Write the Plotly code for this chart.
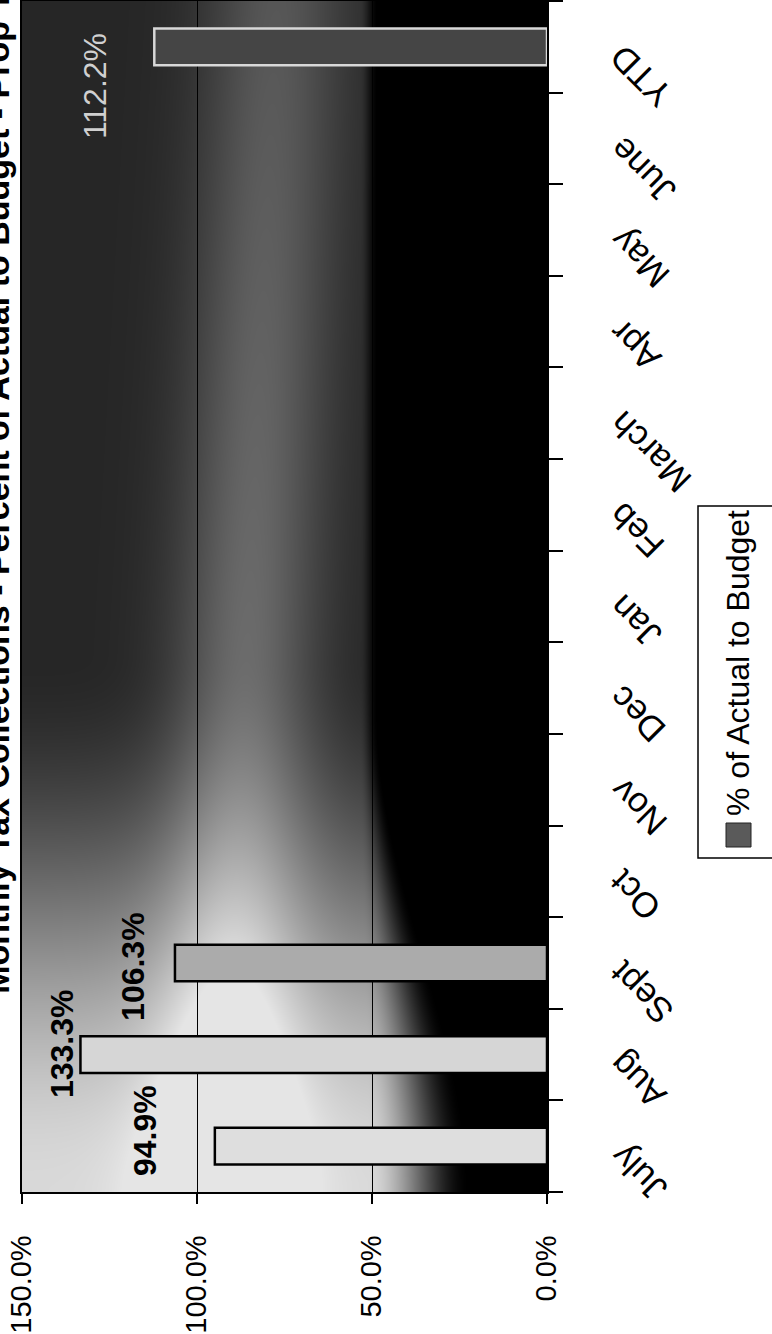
import base64
import struct
import zlib

import numpy as np
import plotly.graph_objects as go

# ---- data -------------------------------------------------------------
months = ["July", "Aug", "Sept", "Oct", "Nov", "Dec", "Jan", "Feb",
          "March", "Apr", "May", "June", "YTD"]
pct_actual_to_budget = [94.9, 133.3, 106.3, None, None, None, None, None,
                        None, None, None, None, 112.2]
value_ticks = [0, 50, 100, 150]
value_tick_text = ["0.0%", "50.0%", "100.0%", "150.0%"]
series_name = "% of Actual to Budget"
title_text = "Monthly Tax Collections - Percent of Actual to Budget - Prop Taxes - FY07"

# ---- styling ----------------------------------------------------------
bar_fill = {"July": "#dedede", "Aug": "#d6d6d6", "Sept": "#ababab", "YTD": "#454545"}
bar_edge = {"July": "black", "Aug": "black", "Sept": "black", "YTD": "#d8d8d8"}
label_shift = {"July": (-70, 16), "Aug": (-19, 11), "Sept": (-42, -3), "YTD": (-59, -39)}
label_colour = {"July": "black", "Aug": "black", "Sept": "black", "YTD": "#d0d0d0"}

SANS = "Liberation Sans, Arial, sans-serif"

W, H = 772, 1334
ML, MR, MT, MB = 22, 225, 1, 142
PW = W - ML - MR
PH = H - MT - MB


def paper_x(px):
    return (px - ML) / PW


def paper_y(py):
    return (H - MB - py) / PH


def smooth(a, b, v):
    s = np.clip((v - a) / (b - a), 0.0, 1.0)
    return s * s * (3 - 2 * s)


def backdrop_uri():
    """Grey-to-black plot-area fill rendered as a PNG data URI."""
    xs = np.arange(PW) + 0.5
    ys = np.arange(PH) + 0.5
    X, Y = np.meshgrid(xs, ys)
    t = Y / PH
    low = smooth(0.55, 1.0, t)
    base = 0.15 + 0.70 * low
    centre = 255 - 55 * t
    glow = (0.19 + 0.15 * t) * np.exp(-((X - centre) / 72.0) ** 2)
    lum = np.minimum(base + glow, 0.9)
    s2 = smooth(0.6, 1.0, t)
    edge = 338 + 7 * s2
    width = 18 + 85 * s2
    lum = lum * (1 - smooth(0.0, 1.0, (X - edge) / width))
    gray = np.clip(lum * 255, 0, 255).astype(np.uint8)

    raw = b"".join(b"\x00" + row.tobytes() for row in gray)

    def chunk(tag, data):
        body = tag + data
        return struct.pack(">I", len(data)) + body + struct.pack(">I", zlib.crc32(body) & 0xFFFFFFFF)

    ihdr = struct.pack(">IIBBBBB", PW, PH, 8, 0, 0, 0, 0)
    png = (b"\x89PNG\r\n\x1a\n" + chunk(b"IHDR", ihdr)
           + chunk(b"IDAT", zlib.compress(raw, 9)) + chunk(b"IEND", b""))
    return "data:image/png;base64," + base64.b64encode(png).decode("ascii")


fig = go.Figure()
fig.add_trace(go.Bar(
    x=pct_actual_to_budget,
    y=months,
    orientation="h",
    name=series_name,
    marker=dict(
        color=[bar_fill.get(m, "#dddddd") for m in months],
        line=dict(color=[bar_edge.get(m, "black") for m in months], width=2.5),
    ),
    hoverinfo="skip",
    showlegend=False,
))

# value labels beside each bar
for m, v in zip(months, pct_actual_to_budget):
    if v is None:
        continue
    dx, dy = label_shift[m]
    fig.add_annotation(
        x=v, y=m, xref="x", yref="y", text=f"{v:.1f}%", showarrow=False,
        textangle=-90, xanchor="center", yanchor="middle", xshift=dx, yshift=dy,
        font=dict(family=SANS, size=32, color=label_colour[m],
                  weight="bold" if m != "YTD" else "normal"),
    )

# category labels, slanted, on the right of the axis
for m in months:
    fig.add_annotation(
        x=paper_x(599), xref="paper", y=m, yref="y", text=m, showarrow=False,
        textangle=-135, xanchor="left", yanchor="top", yshift=12,
        font=dict(family=SANS, size=35, color="black"),
    )

# chart title running up the left edge (carried by an invisible guide line)
fig.add_shape(
    type="line", xref="paper", yref="paper",
    x0=paper_x(-6), x1=paper_x(-6), y0=paper_y(410), y1=paper_y(390),
    line=dict(width=0, color="rgba(0,0,0,0)"),
    label=dict(text=title_text, textposition="middle", textangle=-90,
               xanchor="center", yanchor="middle", padding=0,
               font=dict(family=SANS, size=34, color="black", weight="bold")),
)

# legend box
fig.add_shape(type="rect", xref="paper", yref="paper",
              x0=paper_x(698), x1=paper_x(790), y0=paper_y(858), y1=paper_y(506),
              line=dict(color="black", width=1.5), fillcolor="white")
fig.add_shape(type="rect", xref="paper", yref="paper",
              x0=paper_x(726), x1=paper_x(751), y0=paper_y(847), y1=paper_y(823),
              line=dict(color="#222222", width=1), fillcolor="#5a5a5a")
fig.add_annotation(
    x=paper_x(738), xref="paper", y=paper_y(663), yref="paper", text=series_name,
    showarrow=False, textangle=-90, xanchor="center", yanchor="middle",
    font=dict(family=SANS, size=32, color="black"),
)

fig.update_layout(
    width=W, height=H,
    margin=dict(l=ML, r=MR, t=MT, b=MB, pad=0, autoexpand=False),
    paper_bgcolor="white",
    plot_bgcolor="rgba(0,0,0,0)",
    bargap=0.6,
    showlegend=False,
    images=[dict(source=backdrop_uri(), xref="paper", yref="paper", x=0, y=1,
                 sizex=1, sizey=1, xanchor="left", yanchor="top",
                 sizing="stretch", layer="below")],
)
fig.update_xaxes(
    range=[150, 0], tickvals=value_ticks, ticktext=value_tick_text, tickangle=-90,
    ticks="outside", ticklen=10, tickwidth=1.5, tickcolor="black",
    showgrid=True, gridcolor="black", gridwidth=1, zeroline=False,
    showline=True, linecolor="black", linewidth=1.5, mirror=True, automargin=False,
    tickfont=dict(family=SANS, size=29, color="black"), ticklabelstandoff=20,
)
fig.update_yaxes(
    type="category", categoryorder="array", categoryarray=months, range=[-0.5, 12.5],
    side="right", showticklabels=False, ticks="outside", ticklen=14, tickwidth=1.5,
    tickcolor="black", tickson="boundaries", showgrid=False, automargin=False,
    showline=True, linecolor="black", linewidth=2, mirror=True,
)

fig.write_html("out.html")
